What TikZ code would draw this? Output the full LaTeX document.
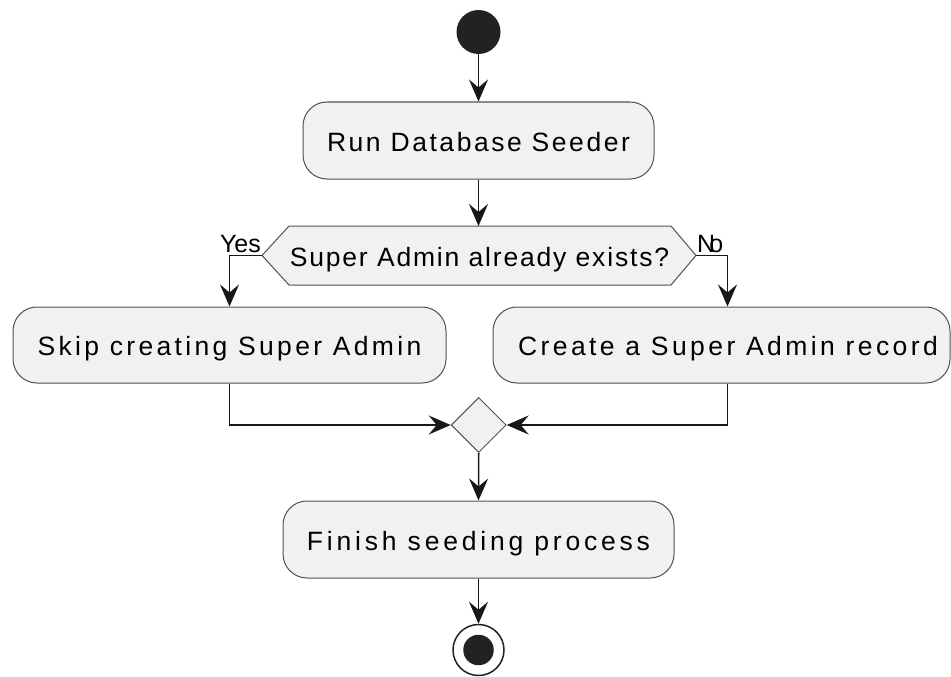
\documentclass[tikz,border=0pt]{standalone}
\usepackage{fontspec}
\setmainfont{Liberation Sans}
\usetikzlibrary{arrows.meta,shapes.geometric}
\definecolor{actfill}{HTML}{F1F1F1}
\definecolor{actline}{HTML}{181818}
\definecolor{dotfill}{HTML}{222222}
\tikzset{
  txt/.style={inner sep=0pt, text height=21pt, text depth=0pt,
    font=\fontsize{26.5}{30}\selectfont\addfontfeatures{LetterSpace=#1}},
  act/.style={txt=#1, draw=actline!75, fill=actfill, line width=1pt, rounded corners=24pt},
  flow/.style={draw=actline, line width=1.6pt, -{Stealth[length=22pt,width=19pt,inset=8pt]}},
  lbl/.style={inner sep=0pt, font=\fontsize{25}{30}\selectfont},
}
\begin{document}
\begin{tikzpicture}[x=1pt,y=-1pt]
\useasboundingbox (0,0) rectangle (951,677);
% start
\node[circle, fill=dotfill, minimum size=44pt, inner sep=0pt] (start) at (478.5,32) {};
% activities
\node[act=9.6, minimum width=351pt, minimum height=77pt] (b1) at (478.5,140.5) {Run Database Seeder};
% decision hexagon
\coordinate (qL) at (262,255.5);
\coordinate (qR) at (696,255.5);
\coordinate (qT) at (478.5,226);
\draw[draw=actline!75, fill=actfill, line width=1pt]
  (qL) -- (289,226) -- (671,226) -- (qR) -- (671,285) -- (289,285) -- cycle;
\node[txt=6.9] (q) at (479.5,255.5) {Super Admin already exists?};
\node[lbl, anchor=base east] (yes) at (261,252) {Yes};
\node[lbl, anchor=base west] (no) at (697,252) {N\kern-6pt o};
\node[act=12.6, minimum width=433pt, minimum height=76pt] (b2) at (229.5,345) {Skip creating Super Admin};
\node[act=12.9, minimum width=457pt, minimum height=76pt] (b3) at (721.5,345) {\hspace*{13pt}Create a Super Admin record};
% merge
\node[diamond, aspect=1, draw=actline!75, fill=actfill, line width=1pt, minimum size=55pt, inner sep=0pt] (d) at (478.7,425) {};
\node[act=14.3, minimum width=391pt, minimum height=77pt] (b4) at (478.5,539.5) {Finish seeding process};
% end
\node[circle, draw=dotfill, fill=white, line width=1.5pt, minimum size=51pt, inner sep=0pt] (stop) at (478.5,650) {};
\node[circle, fill=dotfill, minimum size=30.5pt, inner sep=0pt] (stopin) at (stop.center) {};
% connectors
\draw[flow] (start.south) -- (b1.north);
\draw[flow] (b1.south) -- (qT);
\draw[flow] (qL) -| (b2.north);
\draw[flow] (qR) -| ([xshift=6pt]b3.north);
\draw[flow] (b2.south) |- (d.west);
\draw[flow] ([xshift=6pt]b3.south) |- (d.east);
\draw[flow] (d.south) -- (b4.north);
\draw[flow] (b4.south) -- (stop.north);
\end{tikzpicture}
\end{document}
